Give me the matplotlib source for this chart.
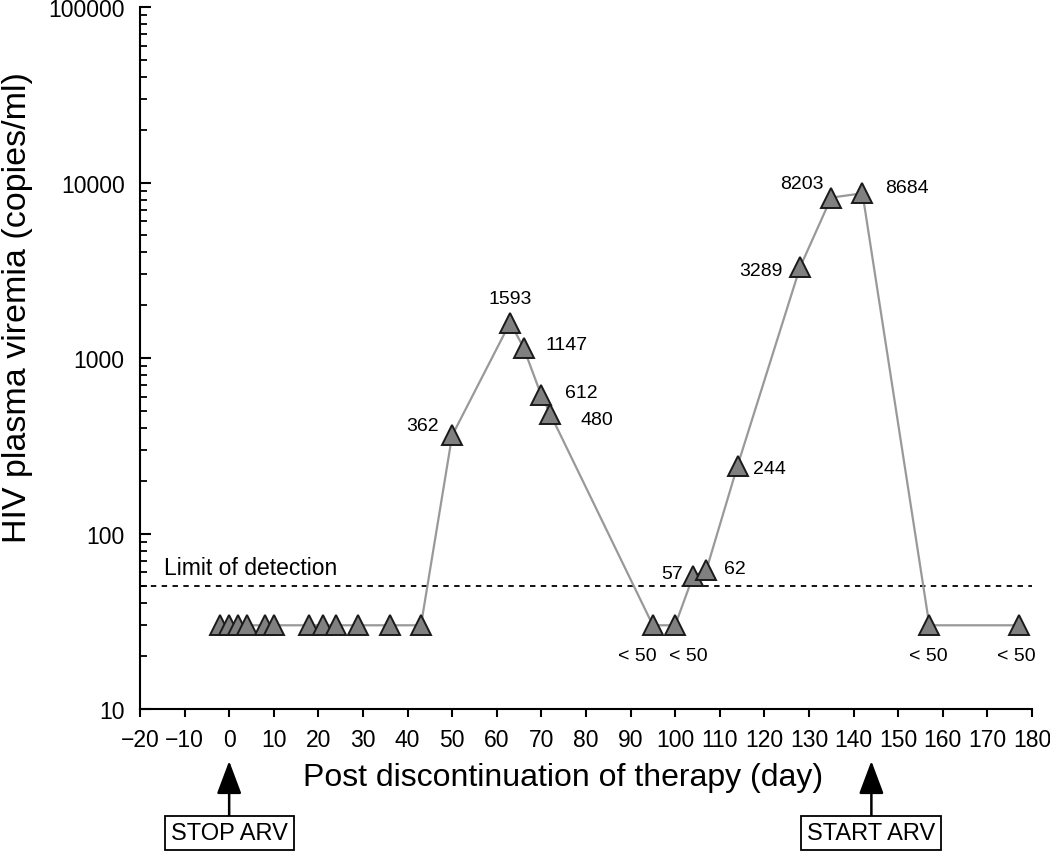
import numpy as np
import matplotlib
matplotlib.use("Agg")
import matplotlib.pyplot as plt
import matplotlib.ticker as ticker

plt.rcParams['font.family'] = ['Liberation Sans', 'DejaVu Sans']

# viral load measurements (values under detection drawn at 30)
days = [-2, 0, 2, 4, 8, 10, 18, 21, 24, 29, 36, 43, 50, 63, 66, 70, 72,
        95, 100, 104, 107, 114, 128, 135, 142, 157, 177]
viremia = [30, 30, 30, 30, 30, 30, 30, 30, 30, 30, 30, 30, 362, 1593, 1147, 612, 480,
           30, 30, 57, 62, 244, 3289, 8203, 8684, 30, 30]
point_labels = ["", "", "", "", "", "", "", "", "", "", "", "", "362", "1593", "1147", "612", "480",
                "<50", "<50", "57", "62", "244", "3289", "8203", "8684", "<50", "<50"]
detection_limit = 50
stop_day = 0
start_day = 144

# where each label sits relative to its marker: (dx px, dy px up, ha)
label_offsets = [None] * 12 + [
    (-13, 10, 'right'), (0, 24, 'center'), (22, 3, 'left'), (24, 3, 'left'), (30, -6, 'left'),
    (-16, -30, 'center'), (13, -30, 'center'), (-10, 3, 'right'), (18, 1, 'left'),
    (15, -3, 'left'), (-17, -3, 'right'), (-8, 14, 'right'), (23, 6, 'left'),
    (-1, -30, 'center'), (-2, -30, 'center'),
]

fig = plt.figure(figsize=(10.5, 8.54), dpi=100)
ax = fig.add_axes([0.1333, 0.1686, 0.8495, 0.822])

ax.plot(days, viremia, color='#999999', lw=1.6, zorder=2,
        marker='^', ms=15, mfc='#808080', mec='#1a1a1a', mew=1.4)
ax.axhline(detection_limit, color='black', ls=(0, (3, 3)), lw=1.3, zorder=1)
ax.text(-14.5, detection_limit * 1.1, "Limit of detection", fontsize=16.5, ha='left', va='bottom')

for d, v, lab, off in zip(days, viremia, point_labels, label_offsets):
    if not lab:
        continue
    dx, dy, ha = off
    txt = "< 50" if lab == "<50" else lab
    ax.annotate(txt, (d, v), xytext=(dx, dy), textcoords='offset pixels',
                ha=ha, va='center', fontsize=14)

ax.set_yscale('log')
ax.set_ylim(10, 100000)
ax.set_xlim(-20, 180)
ax.set_xticks(np.arange(-20, 181, 10))
ax.yaxis.set_major_formatter(ticker.FuncFormatter(lambda v, p: "%d" % v))
ax.yaxis.set_minor_locator(ticker.LogLocator(base=10, subs=np.arange(2, 10)))
ax.yaxis.set_minor_formatter(ticker.NullFormatter())

for s in ['top', 'right']:
    ax.spines[s].set_visible(False)
for s in ['left', 'bottom']:
    ax.spines[s].set_linewidth(1.5)

ax.tick_params(axis='y', which='major', direction='in', length=8, width=1.5, labelsize=16.5, pad=11)
ax.tick_params(axis='y', which='minor', direction='in', length=5, width=1.3)
ax.tick_params(axis='x', which='major', direction='out', length=6, width=1.5, labelsize=16.5, pad=8)

ax.set_xlabel("Post discontinuation of therapy (day)", fontsize=23, va='center')
ax.xaxis.set_label_coords(0.474, -0.097)
ax.set_ylabel("HIV plasma viremia (copies/ml)", fontsize=24.5, va='center')
ax.yaxis.set_label_coords(-0.137, 0.573)

trans = ax.get_xaxis_transform()
for d, txt in [(stop_day, "STOP ARV"), (start_day, "START ARV")]:
    ax.annotate(txt, xy=(d, -0.074), xycoords=trans, xytext=(d, -0.177), textcoords=trans,
                ha='center', va='center', fontsize=17,
                bbox=dict(boxstyle='square,pad=0.25', fc='white', ec='black', lw=1.3),
                arrowprops=dict(arrowstyle='-|>,head_length=1.2,head_width=0.45', color='black',
                                lw=1.8, shrinkA=0, shrinkB=0))

fig.savefig("out.png", dpi=100)
